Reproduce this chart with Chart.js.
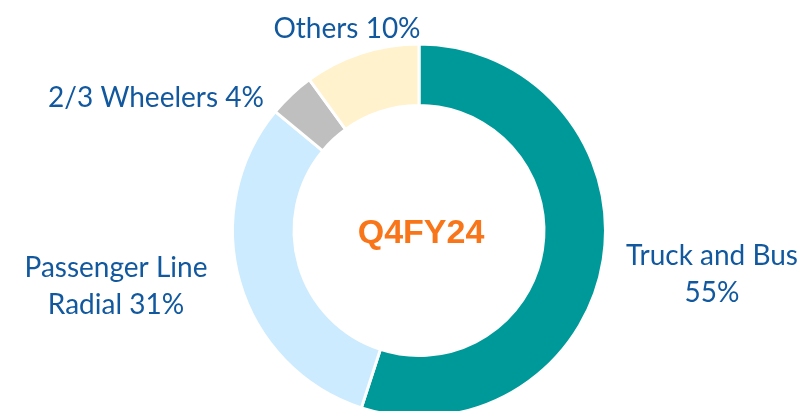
<!DOCTYPE html>
<html>
<head>
<meta charset="utf-8">
<script src="https://cdn.jsdelivr.net/npm/chart.js@4.4.1/dist/chart.umd.min.js"></script>
<style>
  html, body { margin: 0; padding: 0; background: #fff; overflow: hidden; }
  #wrap { width: 807px; height: 430px; position: relative; }
</style>
</head>
<body>
<div id="wrap"><canvas id="chart"></canvas></div>
<script>
// data
const categories = ['Truck and Bus', 'Passenger Line Radial', '2/3 Wheelers', 'Others'];
const shares = [55, 31, 4, 10];
const labelLines = [['Truck and Bus', '55%'], ['Passenger Line', 'Radial 31%'], ['2/3 Wheelers 4%'], ['Others 10%']];
const centerTitle = 'Q4FY24';

const sliceColors = ['#009999', '#CCEBFE', '#BFBFBF', '#FFF2CC'];
const textBlue = '#11589E';

// label anchor offsets from the ring centre (x, baseline y of first line)
const labelOffsets = [[293, 34], [-303, 46], [-263, -124], [-72, -193]];

const ctx = document.getElementById('chart');

const labelPlugin = {
    id: 'sliceLabels',
    afterDraw(chart) {
        const arc = chart.getDatasetMeta(0).data[0];
        const cx = arc.x, cy = arc.y;
        const c = chart.ctx;
        c.save();
        c.textAlign = 'center';
        c.textBaseline = 'alphabetic';
        c.fillStyle = textBlue;
        c.font = '28px Lato, "Open Sans", sans-serif';
        labelLines.forEach((lines, i) => {
            const off = labelOffsets[i];
            lines.forEach((t, j) => {
                c.fillText(t, cx + off[0], cy + off[1] + j * 37);
            });
        });
        c.fillStyle = '#F97519';
        c.font = 'bold 34px "Liberation Sans", Arial, sans-serif';
        c.textBaseline = 'middle';
        c.fillText(centerTitle, cx + 2, cy + 3);
        c.restore();
    }
};

new Chart(ctx, {
    type: 'doughnut',
    data: {
        labels: categories,
        datasets: [{
            data: shares,
            backgroundColor: sliceColors,
            borderColor: '#ffffff',
            borderWidth: 3,
            hoverOffset: 0
        }]
    },
    options: {
        responsive: true,
        maintainAspectRatio: false,
        animation: false,
        cutout: '67%',
        rotation: 0,
        layout: {
            padding: {left: 231, right: 200, top: 42, bottom: 11}
        },
        plugins: {
            legend: {display: false},
            tooltip: {enabled: false}
        }
    },
    plugins: [labelPlugin]
});
</script>
</body>
</html>
